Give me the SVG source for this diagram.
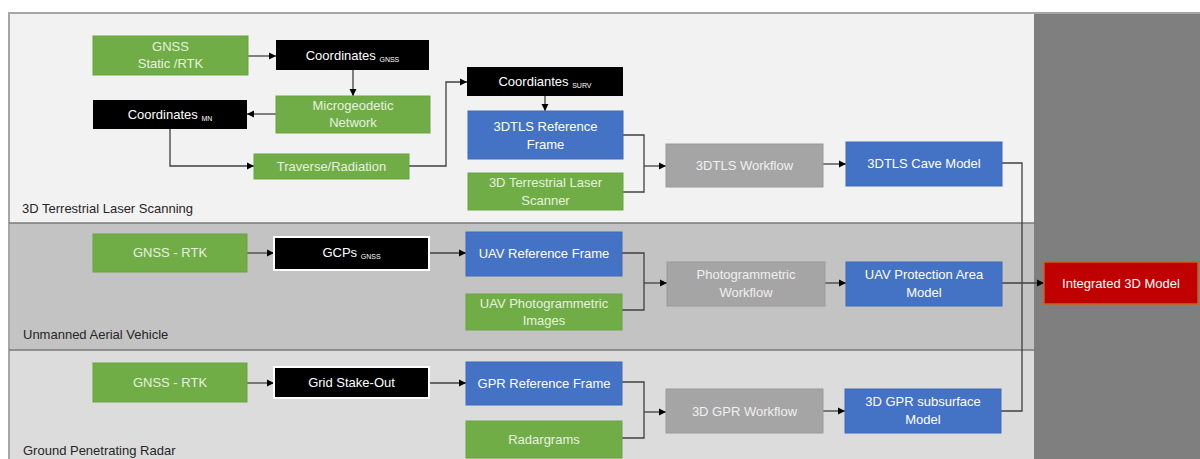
<svg xmlns="http://www.w3.org/2000/svg" width="1200" height="459" viewBox="0 0 1200 459">
<style>
text{font-family:"Liberation Sans",Arial,sans-serif;font-size:13px;text-anchor:middle}
.g{fill:#70ad47;stroke:#6aa540;stroke-width:1}
.b{fill:#4472c4;stroke:#3f6ab8;stroke-width:1}
.k{fill:#000}
.kw{fill:#000;stroke:#fff;stroke-width:2}
.y{fill:#a5a5a5;stroke:#9a9a9a;stroke-width:1}
.r{fill:#c00000;stroke:#d0601a;stroke-width:1.5}
.tg{fill:#e6f2de}
.tw{fill:#fff}
.ty{fill:#f0f0f0}
.sub{font-size:7px}
.lane{text-anchor:start;fill:#262626}
.c{fill:none;stroke:#404040;stroke-width:1.3}
</style>
<defs>
<marker id="ah" markerWidth="8" markerHeight="8" refX="7" refY="4" orient="auto" markerUnits="userSpaceOnUse">
<path d="M0,0.5 L7,4 L0,7.5 z" fill="#000"/>
</marker>
</defs>
<g id="background">
<rect x="9" y="12" width="1025" height="211" fill="#f2f2f2"/>
<rect x="9" y="223" width="1025" height="127" fill="#c3c3c3"/>
<rect x="9" y="350" width="1025" height="109" fill="#dcdcdc"/>
<rect x="1034" y="12" width="166" height="447" fill="#7f7f7f"/>
<line x1="9" y1="13" x2="1200" y2="13" stroke="#a6a6a6" stroke-width="2"/>
<line x1="9" y1="12" x2="9" y2="459" stroke="#a6a6a6" stroke-width="2"/>
<line x1="9" y1="223" x2="1035" y2="223" stroke="#7a7a7a" stroke-width="1.5"/>
<line x1="9" y1="350" x2="1035" y2="350" stroke="#7a7a7a" stroke-width="1.5"/>
<text class="lane" x="22" y="213">3D Terrestrial Laser Scanning</text>
<text class="lane" x="23" y="339">Unmanned Aerial Vehicle</text>
<text class="lane" x="23" y="455">Ground Penetrating Radar</text>
</g>
<g id="connectors">
<path class="c" d="M248,56 H276" marker-end="url(#ah)"/>
<path class="c" d="M353,70 V96" marker-end="url(#ah)"/>
<path class="c" d="M276,114 H247" marker-end="url(#ah)"/>
<path class="c" d="M170,129 V166 H254" marker-end="url(#ah)"/>
<path class="c" d="M409,166 H446 V82 H467" marker-end="url(#ah)"/>
<path class="c" d="M545,96 V111" marker-end="url(#ah)"/>
<path class="c" d="M623,135 H644 V192 H623"/>
<path class="c" d="M644,166 H666" marker-end="url(#ah)"/>
<path class="c" d="M823,164 H846" marker-end="url(#ah)"/>
<path class="c" d="M1002,163 H1022 V411 H1001"/>
<path class="c" d="M1002,283 H1044" marker-end="url(#ah)"/>
<path class="c" d="M247,253 H274" marker-end="url(#ah)"/>
<path class="c" d="M429,253 H466" marker-end="url(#ah)"/>
<path class="c" d="M622,253 H644 V310 H622"/>
<path class="c" d="M644,283 H667" marker-end="url(#ah)"/>
<path class="c" d="M825,283 H846" marker-end="url(#ah)"/>
<path class="c" d="M247,383 H274" marker-end="url(#ah)"/>
<path class="c" d="M429,383 H466" marker-end="url(#ah)"/>
<path class="c" d="M622,382 H644 V438 H622"/>
<path class="c" d="M644,412 H666" marker-end="url(#ah)"/>
<path class="c" d="M823,411 H845" marker-end="url(#ah)"/>
</g>
<g id="gnss_static"><rect class="g" x="93" y="36" width="155" height="39"/><text class="tg" x="170.5" y="51">GNSS</text><text class="tg" x="170.5" y="68">Static /RTK</text></g>
<g id="coord_gnss"><rect class="k" x="276" y="40" width="153" height="30"/><text class="tw" x="352.5" y="60">Coordinates <tspan class="sub" dy="2">GNSS</tspan></text></g>
<g id="microgeodetic"><rect class="g" x="276" y="96" width="154" height="37"/><text class="tg" x="353" y="110">Microgeodetic</text><text class="tg" x="353" y="127">Network</text></g>
<g id="coord_mn"><rect class="k" x="93" y="100" width="154" height="29"/><text class="tw" x="170" y="119">Coordinates <tspan class="sub" dy="2">MN</tspan></text></g>
<g id="traverse"><rect class="g" x="254" y="154" width="155" height="25"/><text class="tg" x="331.5" y="171">Traverse/Radiation</text></g>
<g id="coord_surv"><rect class="k" x="467" y="67" width="156" height="29"/><text class="tw" x="545" y="86">Coordiantes <tspan class="sub" dy="2">SURV</tspan></text></g>
<g id="tls_ref"><rect class="b" x="468" y="111" width="155" height="48"/><text class="tw" x="545.5" y="131">3DTLS Reference</text><text class="tw" x="545.5" y="149">Frame</text></g>
<g id="tls_scanner"><rect class="g" x="468" y="173" width="155" height="37"/><text class="tg" x="545.5" y="187">3D Terrestrial Laser</text><text class="tg" x="545.5" y="205">Scanner</text></g>
<g id="tls_workflow"><rect class="y" x="666" y="144" width="157" height="43"/><text class="ty" x="744.5" y="170">3DTLS Workflow</text></g>
<g id="tls_cave"><rect class="b" x="846" y="142" width="156" height="44"/><text class="tw" x="924" y="168">3DTLS Cave Model</text></g>
<g id="uav_gnss"><rect class="g" x="93" y="234" width="154" height="38"/><text class="tg" x="170" y="257">GNSS - RTK</text></g>
<g id="gcps"><rect class="kw" x="274" y="237" width="155" height="33"/><text class="tw" x="351.5" y="257">GCPs <tspan class="sub" dy="2">GNSS</tspan></text></g>
<g id="uav_ref"><rect class="b" x="466" y="232" width="156" height="44"/><text class="tw" x="544" y="258">UAV Reference Frame</text></g>
<g id="uav_images"><rect class="g" x="466" y="294" width="156" height="36"/><text class="tg" x="544" y="308">UAV Photogrammetric</text><text class="tg" x="544" y="325">Images</text></g>
<g id="photo_workflow"><rect class="y" x="667" y="262" width="158" height="44"/><text class="ty" x="746" y="279">Photogrammetric</text><text class="ty" x="746" y="297">Workflow</text></g>
<g id="uav_model"><rect class="b" x="846" y="262" width="156" height="44"/><text class="tw" x="924" y="279">UAV Protection Area</text><text class="tw" x="924" y="297">Model</text></g>
<g id="integrated"><rect class="r" x="1044" y="262" width="154" height="42"/><text class="tw" x="1121" y="288">Integrated 3D Model</text></g>
<g id="gpr_gnss"><rect class="g" x="93" y="363" width="154" height="39"/><text class="tg" x="170" y="387">GNSS - RTK</text></g>
<g id="grid"><rect class="kw" x="274" y="367" width="155" height="31"/><text class="tw" x="351.5" y="387">Grid Stake-Out</text></g>
<g id="gpr_ref"><rect class="b" x="466" y="362" width="156" height="43"/><text class="tw" x="544" y="388">GPR Reference Frame</text></g>
<g id="radargrams"><rect class="g" x="466" y="421" width="156" height="37"/><text class="tg" x="544" y="444">Radargrams</text></g>
<g id="gpr_workflow"><rect class="y" x="666" y="389" width="157" height="44"/><text class="ty" x="744.5" y="416">3D GPR Workflow</text></g>
<g id="gpr_model"><rect class="b" x="845" y="389" width="156" height="44"/><text class="tw" x="923" y="406">3D GPR subsurface</text><text class="tw" x="923" y="424">Model</text></g>
</svg>
